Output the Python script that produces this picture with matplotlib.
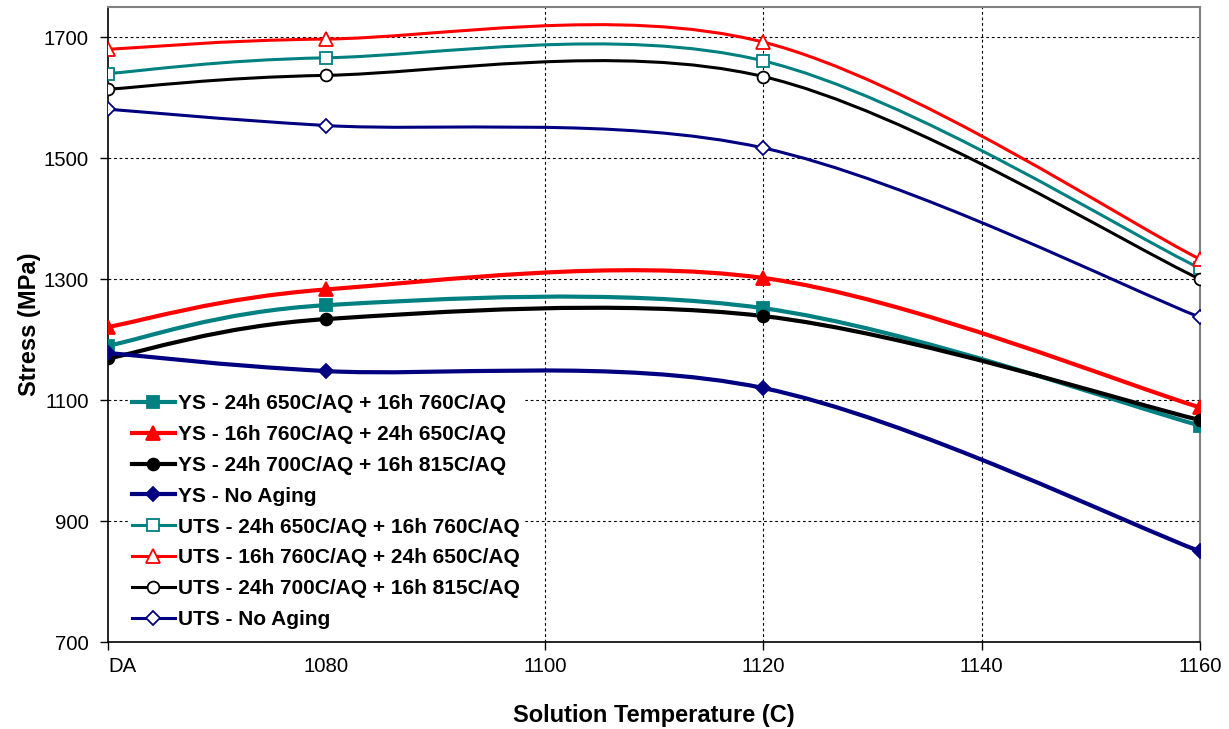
import matplotlib
matplotlib.use("Agg")
import matplotlib.pyplot as plt
from matplotlib.path import Path
from matplotlib.patches import PathPatch
from matplotlib.lines import Line2D

plt.rcParams["font.family"] = ["Liberation Sans", "DejaVu Sans"]

# solution temperature (DA plotted at 1060)
temps = [1060, 1080, 1120, 1160]
tick_pos = [1060, 1080, 1100, 1120, 1140, 1160]
tick_lbl = ["DA", "1080", "1100", "1120", "1140", "1160"]

ys_650_760 = [1190, 1257, 1252, 1058]
ys_760_650 = [1221, 1283, 1302, 1088]
ys_700_815 = [1169, 1234, 1239, 1067]
ys_noage = [1178, 1148, 1120, 850]
uts_650_760 = [1640, 1666, 1661, 1318]
uts_760_650 = [1680, 1697, 1692, 1333]
uts_700_815 = [1614, 1637, 1635, 1300]
uts_noage = [1581, 1554, 1517, 1237]

labels = [
    "YS - 24h 650C/AQ + 16h 760C/AQ",
    "YS - 16h 760C/AQ + 24h 650C/AQ",
    "YS - 24h 700C/AQ + 16h 815C/AQ",
    "YS - No Aging",
    "UTS - 24h 650C/AQ + 16h 760C/AQ",
    "UTS - 16h 760C/AQ + 24h 650C/AQ",
    "UTS - 24h 700C/AQ + 16h 815C/AQ",
    "UTS - No Aging",
]
series = [ys_650_760, ys_760_650, ys_700_815, ys_noage,
          uts_650_760, uts_760_650, uts_700_815, uts_noage]
colors = ["#008080", "#FF0000", "#000000", "#000080"] * 2
markers = ["s", "^", "o", "D"] * 2
msizes = [9, 9.5, 8.5, 7] * 2


def smooth_path(xs, ys):
    # excel-like smoothed line: catmull-rom segments as cubic beziers
    pts = list(zip(xs, ys))
    n = len(pts)
    verts = [pts[0]]
    codes = [Path.MOVETO]
    for i in range(n - 1):
        p0 = pts[i - 1] if i > 0 else pts[i]
        p1, p2 = pts[i], pts[i + 1]
        p3 = pts[i + 2] if i + 2 < n else pts[i + 1]
        c1 = (p1[0] + (p2[0] - p0[0]) / 6, p1[1] + (p2[1] - p0[1]) / 6)
        c2 = (p2[0] - (p3[0] - p1[0]) / 6, p2[1] - (p3[1] - p1[1]) / 6)
        verts += [c1, c2, p2]
        codes += [Path.CURVE4] * 3
    return Path(verts, codes)


fig = plt.figure(figsize=(12.29, 7.29), dpi=100)
ax = fig.add_axes([0.0879, 0.1193, 0.8885, 0.8711])

handles = []
for i, (vals, lab) in enumerate(zip(series, labels)):
    ys = i < 4
    lw = 3.0 if ys else 2.2
    patch = PathPatch(smooth_path(temps, vals), facecolor="none",
                      edgecolor=colors[i], lw=lw, zorder=3 + i * 0.1,
                      capstyle="round", joinstyle="round")
    ax.add_patch(patch)
    mfc = colors[i] if ys else "white"
    ax.plot(temps, vals, linestyle="none", marker=markers[i], ms=msizes[i],
            mfc=mfc, mec=colors[i], mew=1.3, zorder=4 + i * 0.1)
    handles.append(Line2D([], [], color=colors[i], lw=lw, marker=markers[i],
                          ms=msizes[i], mfc=mfc, mec=colors[i], mew=1.3))

ax.set_xlim(1060, 1160)
ax.set_ylim(700, 1750)
ax.set_yticks([700, 900, 1100, 1300, 1500, 1700])
ax.set_xticks(tick_pos)
ax.set_xticklabels(tick_lbl)
ax.tick_params(axis="both", labelsize=14.7, direction="out", length=6, width=1)
ax.tick_params(axis="y", pad=8)
ax.tick_params(axis="x", pad=5)
ax.grid(True, color="black", linestyle=(0, (2.5, 2.5)), lw=0.8)
for t in ax.xaxis.get_major_ticks():
    if t.get_loc() == 1080:
        t.tick1line.set_visible(False)
    if t.get_loc() in (1060, 1080, 1160):
        t.gridline.set_visible(False)
for t in ax.yaxis.get_major_ticks():
    if t.get_loc() == 700:
        t.gridline.set_visible(False)
xl = ax.get_xticklabels()
xl[0].set_horizontalalignment("left")

ax.spines["left"].set_color("black")
ax.spines["bottom"].set_color("black")
ax.spines["left"].set_linewidth(1.2)
ax.spines["bottom"].set_linewidth(1.2)
ax.spines["top"].set_color("#808080")
ax.spines["right"].set_color("#808080")
ax.spines["top"].set_linewidth(1.5)
ax.spines["right"].set_linewidth(1.5)

ax.set_ylabel("Stress (MPa)", fontsize=17, fontweight="bold", labelpad=2)
ax.set_xlabel("Solution Temperature (C)", fontsize=17, fontweight="bold",
              labelpad=20)

leg = ax.legend(handles, labels, loc="upper left",
                bbox_to_anchor=(0.018, 0.397), borderaxespad=0,
                frameon=True, fancybox=False, framealpha=1,
                edgecolor="white", facecolor="white",
                prop={"weight": "bold", "size": 15},
                handlelength=2.05, handletextpad=0.15, labelspacing=0.57,
                borderpad=0.2)
leg.set_zorder(10)

fig.savefig("out.png", dpi=100)
